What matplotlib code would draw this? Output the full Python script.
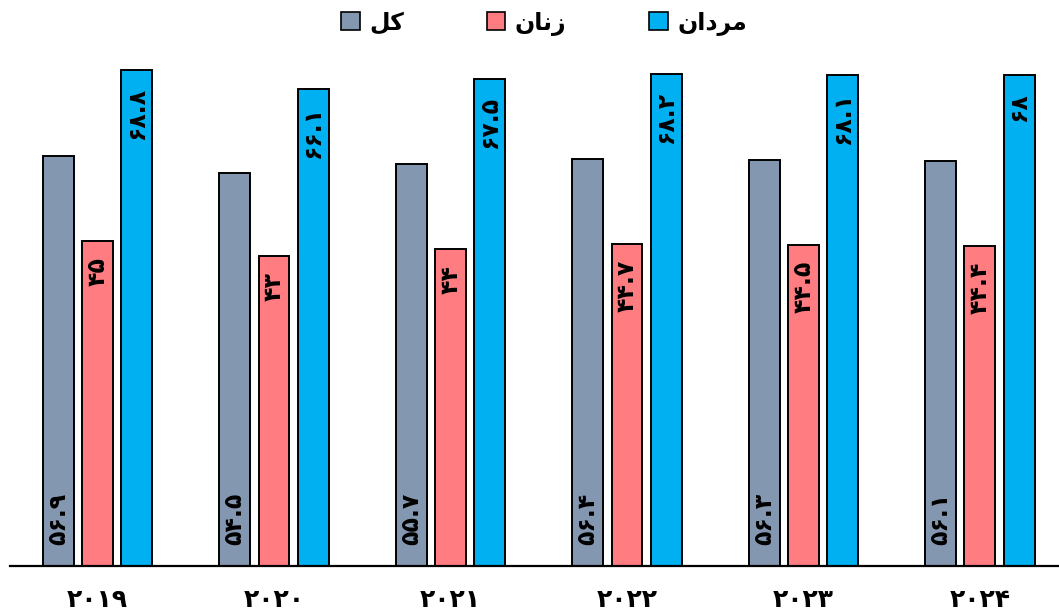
import matplotlib
matplotlib.use("Agg")
import matplotlib.pyplot as plt
import numpy as np
from matplotlib.patches import Patch

plt.rcParams['font.family'] = ['DejaVu Sans']

years = ["2019", "2020", "2021", "2022", "2023", "2024"]
total = [56.9, 54.5, 55.7, 56.4, 56.3, 56.1]
women = [45, 43, 44, 44.7, 44.5, 44.4]
men = [68.8, 66.1, 67.5, 68.2, 68.1, 68]

# Persian series names, written in shaped presentation forms (visual order)
name_total = "\uFEDE\uFB90"                      # کل
name_women = "\uFEE5\uFE8E\uFEE7\uFEAF"          # زنان
name_men = "\uFEE5\uFE8D\uFEA9\uFEAE\uFEE3"      # مردان

colors = ["#8497B0", "#FF7C80", "#00B0F0"]

FA_DIGITS = str.maketrans("0123456789", "۰۱۲۳۴۵۶۷۸۹")


def fa(v):
    s = f"{v:g}"
    return s.translate(FA_DIGITS)


fig = plt.figure(figsize=(10.59, 6.15), dpi=100)
ax = fig.add_axes([10 / 1059, 49 / 615, 1 - 10 / 1059, 505 / 615])

x = np.arange(len(years))
w = 0.175
pitch = 0.223

ax.bar(x - pitch, total, w, color=colors[0], edgecolor="black", linewidth=1.4)
ax.bar(x, women, w, color=colors[1], edgecolor="black", linewidth=1.4)
ax.bar(x + pitch, men, w, color=colors[2], edgecolor="black", linewidth=1.4)

lbl = dict(rotation=90, fontsize=17, fontweight="bold", color="black",
           rotation_mode="anchor")

for xi, v in zip(x - pitch, total):
    ax.annotate(fa(v), (xi, 0), xytext=(0, 21), textcoords="offset pixels",
                va="center", ha="left", **lbl)
for xi, v in zip(x, women):
    ax.annotate(fa(v), (xi, v), xytext=(0, -16), textcoords="offset pixels",
                va="center", ha="right", **lbl)
for xi, v in zip(x + pitch, men):
    ax.annotate(fa(v), (xi, v), xytext=(0, -17), textcoords="offset pixels",
                va="center", ha="right", **lbl)

ax.set_xlim(-0.496, 5.448)
ax.set_ylim(0, 70)
ax.set_xticks(x)
ax.set_xticklabels([y.translate(FA_DIGITS) for y in years],
                   fontsize=18, fontweight="bold")
ax.tick_params(axis="x", length=0, pad=16)
ax.set_yticks([])
for side in ("left", "right", "top"):
    ax.spines[side].set_visible(False)
ax.spines["bottom"].set_linewidth(1.6)
ax.spines["bottom"].set_color("black")

handles = [Patch(facecolor=c, edgecolor="black", linewidth=1.2) for c in colors]
fig.legend(handles, [name_total, name_women, name_men], loc="center",
           bbox_to_anchor=(544 / 1059, 1 - 23 / 615), ncol=3, frameon=False,
           prop={"size": 17, "weight": "bold"}, handlelength=0.8,
           handleheight=0.8, columnspacing=3.5, handletextpad=0.4)

fig.savefig("out.png", dpi=100)
